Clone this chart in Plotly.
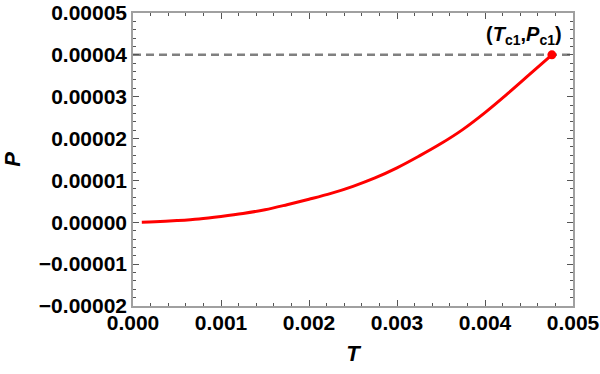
import plotly.graph_objects as go

# curve P(T)
T_vals = [0.0001, 0.00025, 0.0005, 0.00075, 0.001, 0.00125, 0.0015, 0.00175, 0.002, 0.00225,
          0.0025, 0.00275, 0.003, 0.00325, 0.0035, 0.00375, 0.004, 0.00425, 0.0045, 0.00476]
P_vals = [0.0, 0.01e-5, 0.04e-5, 0.08e-5, 0.14e-5, 0.21e-5, 0.30e-5, 0.42e-5, 0.55e-5, 0.69e-5,
          0.86e-5, 1.06e-5, 1.30e-5, 1.58e-5, 1.88e-5, 2.22e-5, 2.62e-5, 3.06e-5, 3.52e-5, 4.0e-5]

Tc1 = 0.00476
Pc1 = 0.00004

x_ticks = [0.000, 0.001, 0.002, 0.003, 0.004, 0.005]
y_ticks = [-0.00002, -0.00001, 0.0, 0.00001, 0.00002, 0.00003, 0.00004, 0.00005]

font_name = "Liberation Sans"

fig = go.Figure()

# dashed reference line at P = Pc1
fig.add_trace(go.Scatter(
    x=[0.0, 0.005], y=[Pc1, Pc1],
    mode="lines",
    line=dict(color="#808080", width=2.5, dash="8px,5px"),
    showlegend=False, hoverinfo="skip"
))

fig.add_trace(go.Scatter(
    x=T_vals, y=P_vals,
    mode="lines",
    line=dict(color="red", width=3, shape="spline", smoothing=1),
    showlegend=False
))

fig.add_trace(go.Scatter(
    x=[Tc1], y=[Pc1],
    mode="markers",
    marker=dict(color="red", size=9),
    showlegend=False
))

fig.add_annotation(
    x=Tc1, y=Pc1,
    text="(<i>T</i><sub>c1</sub>,<i>P</i><sub>c1</sub>)",
    showarrow=False,
    xanchor="right", yanchor="bottom",
    xshift=12, yshift=5,
    font=dict(family=font_name, size=20, color="black", weight="bold")
)

axis_common = dict(
    showgrid=False, zeroline=False, automargin=False, ticklabeloverflow="allow",
    showline=True, linecolor="#a0a0a0", linewidth=1.5,
    mirror="ticks", ticks="inside", ticklen=6, tickwidth=1, tickcolor="#555555",
    tickfont=dict(family=font_name, size=21, color="black", weight="bold"),
)

fig.update_xaxes(
    range=[0.0, 0.005],
    tickvals=x_ticks, tickformat=".3f", ticklabelstandoff=-3,
    minor=dict(dtick=0.0002, ticks="inside", ticklen=3, tickcolor="#555555"),
    title=dict(text="<i>T</i>", font=dict(family=font_name, size=22, color="black", weight="bold"), standoff=13),
    **axis_common
)
fig.update_yaxes(
    range=[-0.00002, 0.00005],
    tickvals=y_ticks, tickformat=".5f",
    minor=dict(dtick=0.000002, ticks="inside", ticklen=3, tickcolor="#555555"),
    title=dict(text="<i>P</i>", font=dict(family=font_name, size=22, color="black", weight="bold"), standoff=13),
    **axis_common
)

fig.update_layout(
    width=600, height=374,
    margin=dict(l=133, r=27, t=13, b=68),
    plot_bgcolor="white", paper_bgcolor="white",
)

# drop the default page margin so the figure sits at the window's corner
fig.write_html("out.html", config={"displayModeBar": False},
               post_script="document.body.style.margin='0';")
